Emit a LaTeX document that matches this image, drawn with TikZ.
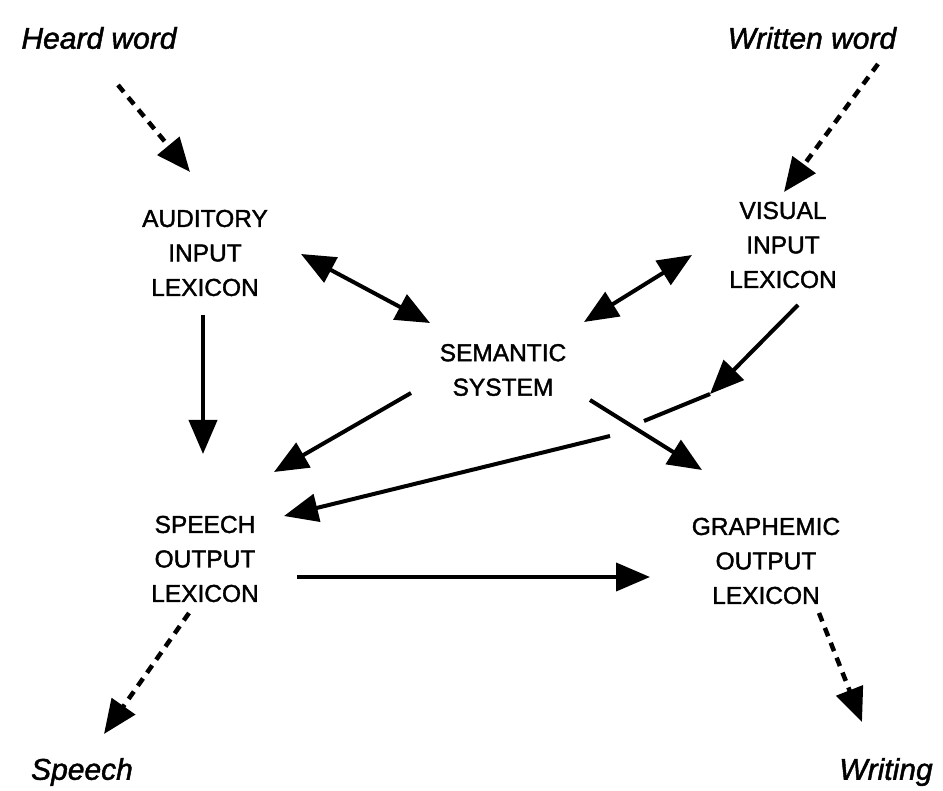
\documentclass[tikz,border=0pt]{standalone}
\usepackage{fontspec}
\setmainfont{Liberation Sans}
\newfontfamily\labelfont{Liberation Sans}[FakeBold=1.5]
\usetikzlibrary{arrows.meta}
\begin{document}
\begin{tikzpicture}[x=1pt,y=-1pt,
  lex/.style={align=center,font=\labelfont\fontsize{24.5}{34.5}\selectfont,inner sep=0pt},
  ext/.style={font=\labelfont\fontsize{30}{34}\selectfont\itshape,inner sep=0pt},
  link/.style={line width=4pt,-{Triangle[length=34pt,width=28pt]}},
  both/.style={line width=4pt,{Triangle[length=34pt,width=28pt]}-{Triangle[length=34pt,width=28pt]}},
  plain/.style={line width=4pt},
  outside/.style={line width=4.5pt,dash pattern=on 9pt off 7pt,-{Triangle[length=34pt,width=28pt]}}]
\useasboundingbox (0,0) rectangle (943,791);

% labels of the input and output modalities
\node[ext] (heard) at (99,38) {Heard word};
\node[ext] (written) at (812,38) {Written word};
\node[ext] (speech) at (82,772) {Speech};
\node[ext] (writing) at (886,772) {Writing};

% lexicons and the semantic system
\node[lex] (ail) at (205,253) {AUDITORY\\INPUT\\LEXICON};
\node[lex] (vil) at (783,245) {VISUAL\\INPUT\\LEXICON};
\node[lex] (sem) at (503,370) {SEMANTIC\\SYSTEM};
\node[lex] (sol) at (205,559) {SPEECH\\OUTPUT\\LEXICON};
\node[lex] (gol) at (766,561) {GRAPHEMIC\\OUTPUT\\LEXICON};

% free ends of the connectors
\coordinate (h0) at (118,85);   \coordinate (h1) at (190,172);
\coordinate (w0) at (878,64);   \coordinate (w1) at (784,192);
\coordinate (s0) at (189,613);  \coordinate (s1) at (104,734);
\coordinate (g0) at (819,613);  \coordinate (g1) at (862,722);
\coordinate (as0) at (301,254); \coordinate (as1) at (430,323);
\coordinate (vs0) at (692,255); \coordinate (vs1) at (584,322);
\coordinate (ao0) at (203,315); \coordinate (ao1) at (203,454);
\coordinate (so0) at (411,393); \coordinate (so1) at (274,472);
\coordinate (sg0) at (590,400); \coordinate (sg1) at (702,470);
\coordinate (vk0) at (798,305); \coordinate (vk1) at (710,394);
\coordinate (vk2) at (644,421); \coordinate (vk3) at (610,436);
\coordinate (vk4) at (284,516);
\coordinate (og0) at (297,577); \coordinate (og1) at (650,577);

% dashed input and output routes
\draw[outside] (h0) -- (h1);
\draw[outside] (w0) -- (w1);
\draw[outside] (s0) -- (s1);
\draw[outside] (g0) -- (g1);

% lexical routes
\draw[both] (as0) -- (as1);
\draw[both] (vs0) -- (vs1);
\draw[link] (ao0) -- (ao1);
\draw[link] (so0) -- (so1);
\draw[link] (sg0) -- (sg1);
\draw[link] (vk0) -- (vk1);
\draw[plain] (vk1) -- (vk2);
\draw[link] (vk3) -- (vk4);
\draw[link] (og0) -- (og1);
\end{tikzpicture}
\end{document}
